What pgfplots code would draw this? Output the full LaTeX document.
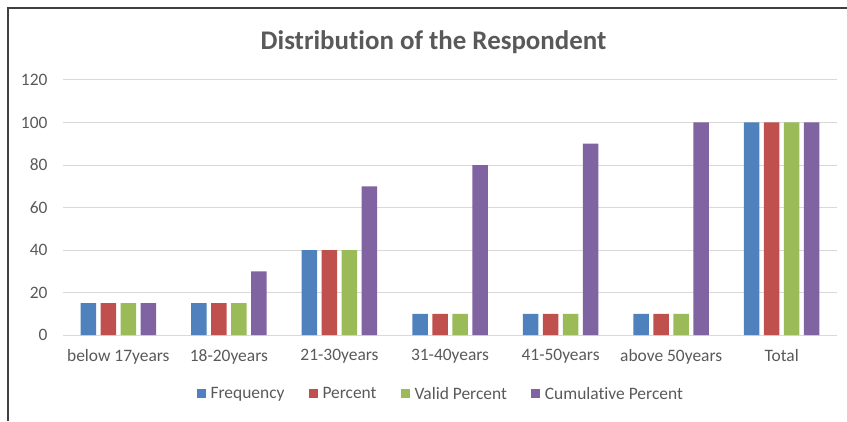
\documentclass[border=0pt]{standalone}
\usepackage{fontspec}
\setmainfont{Carlito}[Ligatures=NoCommon]
\usepackage{pgfplots}
\pgfplotsset{compat=1.18}
\definecolor{cblue}{HTML}{4F81BD}
\definecolor{cred}{HTML}{C0504D}
\definecolor{cgreen}{HTML}{9BBB59}
\definecolor{cpurple}{HTML}{8064A2}
\definecolor{txt}{HTML}{595959}
\definecolor{gridc}{HTML}{D9D9D9}
\begin{document}
\begin{tikzpicture}[x=1bp,y=1bp]
\useasboundingbox (0,0) rectangle (847,421);
\draw[color=black!75, line width=1.5bp] (8,0) -- (8,413) -- (847,413);
\node[font=\fontsize{27}{32}\selectfont\bfseries, text=txt] at (433.5,379) {Distribution of the Respondent};
\begin{axis}[
  at={(63bp,86bp)}, anchor=south west,
  scale only axis, width=774bp, height=255bp,
  ybar=4.5bp, bar width=15.5bp,
  xmin=-0.5, xmax=6.5, ymin=0, ymax=120,
  ytick={0,20,...,120},
  xtick=data,
  xticklabels={below 17years,18-20years,21-30years,31-40years,41-50years,above 50years,Total},
  /pgf/number format/assume math mode=true,
  ticklabel style={font=\fontsize{17.5}{21}\selectfont, text=txt},
  yticklabel style={xshift=-12bp},
  xticklabel style={yshift=-11bp},
  axis line style={draw=none},
  major tick length=0pt,
  ymajorgrids, grid style={gridc, line width=1bp},
  legend columns=4,
  legend style={at={(0.488,-0.231)}, anchor=center, draw=none, fill=none,
    font=\fontsize{17.5}{21}\selectfont, text=txt,
    /tikz/every odd column/.append style={column sep=3bp},
    /tikz/every even column/.append style={column sep=22bp}},
  legend image code/.code={\fill[#1] (0bp,-4.5bp) rectangle (9bp,4.5bp);},
]
\addplot[fill=cblue, draw=none] coordinates {(0,15) (1,15) (2,40) (3,10) (4,10) (5,10) (6,100)};
\addplot[fill=cred, draw=none] coordinates {(0,15) (1,15) (2,40) (3,10) (4,10) (5,10) (6,100)};
\addplot[fill=cgreen, draw=none] coordinates {(0,15) (1,15) (2,40) (3,10) (4,10) (5,10) (6,100)};
\addplot[fill=cpurple, draw=none] coordinates {(0,15) (1,30) (2,70) (3,80) (4,90) (5,100) (6,100)};
\legend{Frequency,Percent,Valid Percent,Cumulative Percent}
\end{axis}
\end{tikzpicture}
\end{document}
